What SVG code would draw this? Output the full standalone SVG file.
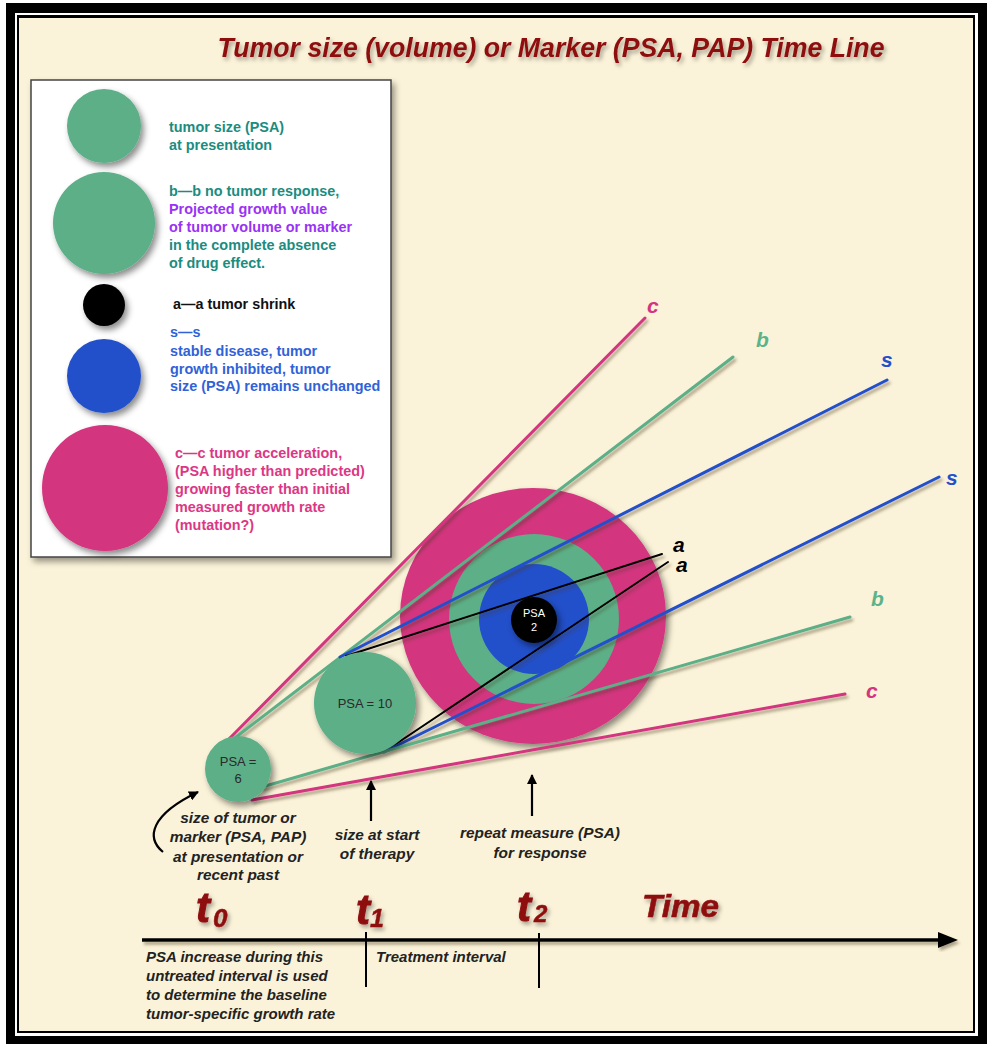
<svg xmlns="http://www.w3.org/2000/svg" width="987" height="1044" viewBox="0 0 987 1044">
<defs>
<style>
.leg{font-family:"Liberation Sans",Arial,sans-serif;font-weight:bold;font-size:14.4px}
.teal{fill:#1B8C80}.purp{fill:#9A32F5}.blk{fill:#111}.blu{fill:#3062D8}.pnk{fill:#DC3785}
.note{font-family:"Liberation Sans",Arial,sans-serif;font-weight:bold;font-style:italic;font-size:15.4px;fill:#222}
.note2{font-family:"Liberation Sans",Arial,sans-serif;font-weight:bold;font-style:italic;font-size:15px;fill:#222}
.red{font-family:"Liberation Sans",Arial,sans-serif;font-weight:bold;font-style:italic;fill:#8E0E10}
.lab{font-family:"Liberation Sans",Arial,sans-serif;font-weight:bold;font-style:italic;font-size:21px}
.psa{font-family:"Liberation Sans",Arial,sans-serif;font-size:13px;fill:#2a2a2a;text-anchor:middle}
.g{fill:#5CAF87}.p{fill:#D3357F}.b{fill:#2350CA}.k{fill:#000}
.ln{fill:none;stroke-linecap:round}
</style>
<filter id="cs" x="-30%" y="-30%" width="170%" height="170%"><feDropShadow dx="3" dy="4" stdDeviation="3" flood-color="#000" flood-opacity="0.45"/></filter>
<filter id="ls" x="-10%" y="-10%" width="120%" height="130%"><feDropShadow dx="2" dy="3" stdDeviation="1.5" flood-color="#4a3a20" flood-opacity="0.45"/></filter>
<filter id="ts" x="-20%" y="-30%" width="150%" height="170%"><feDropShadow dx="2" dy="3" stdDeviation="2" flood-color="#000" flood-opacity="0.35"/></filter>
<filter id="bs" x="-10%" y="-10%" width="120%" height="120%"><feDropShadow dx="3" dy="4" stdDeviation="3" flood-color="#000" flood-opacity="0.4"/></filter>
<marker id="ah" viewBox="0 0 10 10" refX="9" refY="5" markerWidth="10" markerHeight="10" markerUnits="userSpaceOnUse" orient="auto"><path d="M0,0 L10,5 L0,10 Z" fill="#000"/></marker>
</defs>

<g id="frame">
<rect x="0" y="0" width="987" height="1044" fill="#fff"/>
<rect x="6" y="3" width="981" height="1041" fill="#000"/>
<rect x="15" y="13" width="963" height="1023" fill="#fff"/>
<rect x="17" y="15" width="958" height="1018" fill="#000"/>
<rect x="19" y="18" width="954" height="1013" fill="#FBF3D9"/>
</g>

<text id="title" class="red" x="551" y="57" font-size="27" text-anchor="middle" textLength="667" lengthAdjust="spacingAndGlyphs" filter="url(#ts)">Tumor size (volume) or Marker (PSA, PAP) Time Line</text>

<g id="legend">
<rect x="31" y="80" width="360" height="477" fill="#fff" stroke="#444" stroke-width="1.5" filter="url(#bs)"/>
<g filter="url(#cs)">
<circle cx="104" cy="126" r="37" class="g"/>
<circle cx="104" cy="223" r="51" class="g"/>
<circle cx="104" cy="305" r="21" class="k"/>
<circle cx="104" cy="376" r="37" class="b"/>
<circle cx="105" cy="488" r="63" class="p"/>
</g>
<text class="leg teal" x="169" y="132">tumor size (PSA)</text>
<text class="leg teal" x="169" y="150">at presentation</text>
<text class="leg teal" x="169" y="196">b—b no tumor response,</text>
<text class="leg purp" x="169" y="214">Projected growth value</text>
<text class="leg purp" x="169" y="232">of tumor volume or marker</text>
<text class="leg teal" x="169" y="250">in the complete absence</text>
<text class="leg teal" x="169" y="268">of drug effect.</text>
<text class="leg blk" x="173" y="309">a—a tumor shrink</text>
<text class="leg blu" x="170" y="337">s—s</text>
<text class="leg blu" x="170" y="356">stable disease, tumor</text>
<text class="leg blu" x="170" y="374">growth inhibited, tumor</text>
<text class="leg blu" x="170" y="391">size (PSA) remains unchanged</text>
<text class="leg pnk" x="175" y="458">c—c tumor acceleration,</text>
<text class="leg pnk" x="175" y="476">(PSA higher than predicted)</text>
<text class="leg pnk" x="175" y="494">growing faster than initial</text>
<text class="leg pnk" x="175" y="512">measured growth rate</text>
<text class="leg pnk" x="175" y="530">(mutation?)</text>
</g>

<g id="response-circles" filter="url(#cs)">
<ellipse cx="533" cy="616" rx="133" ry="128" class="p"/>
<circle cx="534" cy="619" r="85" class="g"/>
<circle cx="534" cy="619" r="55" class="b"/>
</g>

<g id="connectors" filter="url(#ls)">
<line class="ln" x1="228" y1="740" x2="645" y2="318" stroke="#D3357F" stroke-width="3"/>
<line class="ln" x1="236" y1="737" x2="733" y2="357" stroke="#5CAF87" stroke-width="3"/>
<line class="ln" x1="340" y1="657" x2="887" y2="380" stroke="#2350CA" stroke-width="3"/>
<line class="ln" x1="346" y1="656" x2="662" y2="554" stroke="#000" stroke-width="2"/>
<line class="ln" x1="384" y1="752" x2="668" y2="562" stroke="#000" stroke-width="2"/>
<line class="ln" x1="384" y1="752" x2="939" y2="477" stroke="#2350CA" stroke-width="3"/>
<line class="ln" x1="262" y1="787" x2="850" y2="617" stroke="#5CAF87" stroke-width="3"/>
<line class="ln" x1="252" y1="800" x2="845" y2="694" stroke="#D3357F" stroke-width="3"/>
</g>

<g id="node-psa10">
<circle cx="365" cy="703" r="51" class="g" filter="url(#cs)"/>
<text class="psa" x="365" y="708">PSA = 10</text>
</g>
<g id="node-psa6">
<circle cx="238" cy="769" r="33" class="g" filter="url(#cs)"/>
<text class="psa" x="238" y="766">PSA =</text>
<text class="psa" x="238" y="783">6</text>
</g>
<g id="node-psa2">
<circle cx="534" cy="620" r="23" class="k" filter="url(#cs)"/>
<text class="psa" x="534" y="617" font-size="11" fill="#fff" style="fill:#fff;font-size:11px">PSA</text>
<text class="psa" x="534" y="631" style="fill:#fff;font-size:11px">2</text>
</g>

<g id="line-labels">
<text class="lab" x="647" y="313" fill="#D3357F">c</text>
<text class="lab" x="756" y="347" fill="#5CB38A">b</text>
<text class="lab" x="881" y="367" fill="#2350CA">s</text>
<text class="lab" x="946" y="485" fill="#2350CA">s</text>
<text class="lab" x="871" y="606" fill="#5CB38A">b</text>
<text class="lab" x="866" y="698" fill="#D3357F">c</text>
<text class="lab" x="673" y="552" fill="#000">a</text>
<text class="lab" x="676" y="572" fill="#000">a</text>
</g>

<g id="pointers" fill="none" stroke="#000" stroke-width="2.2">
<path d="M163,852 C146,838 150,815 198,792" marker-end="url(#ah)"/>
<line x1="371" y1="821" x2="371" y2="781" marker-end="url(#ah)"/>
<line x1="532" y1="816" x2="532" y2="775" marker-end="url(#ah)"/>
</g>

<g id="annotations">
<text class="note" x="238" y="823" text-anchor="middle">size of tumor or</text>
<text class="note" x="238" y="842" text-anchor="middle">marker (PSA, PAP)</text>
<text class="note" x="238" y="862" text-anchor="middle">at presentation or</text>
<text class="note" x="238" y="880" text-anchor="middle">recent past</text>
<text class="note" x="377" y="840" text-anchor="middle">size at start</text>
<text class="note" x="377" y="859" text-anchor="middle">of therapy</text>
<text class="note" x="540" y="838" text-anchor="middle">repeat measure (PSA)</text>
<text class="note" x="540" y="858" text-anchor="middle">for response</text>
</g>

<g id="timeline">
<g filter="url(#ls)">
<line x1="142" y1="940" x2="945" y2="940" stroke="#000" stroke-width="3.5"/>
<polygon points="938,932 958,940 938,948" fill="#000"/>
</g>
<line x1="366" y1="932" x2="366" y2="987" stroke="#000" stroke-width="2"/>
<line x1="539" y1="933" x2="539" y2="988" stroke="#000" stroke-width="2"/>
<g filter="url(#ts)">
<text class="red" x="196" y="922" font-size="42" stroke="#8E0E10" stroke-width="1">t<tspan font-size="26" stroke-width="0.5" dx="3" dy="5">0</tspan></text>
<text class="red" x="356" y="924" font-size="42" stroke="#8E0E10" stroke-width="1">t<tspan font-size="25" stroke-width="0.5" dx="0" dy="3">1</tspan></text>
<text class="red" x="517" y="921" font-size="42" stroke="#8E0E10" stroke-width="1">t<tspan font-size="24" stroke-width="0.5" dx="3" dy="1">2</tspan></text>
<text class="red" x="642" y="917" font-size="31" textLength="77" lengthAdjust="spacingAndGlyphs" stroke="#8E0E10" stroke-width="0.6">Time</text>
</g>
<text class="note2" x="146" y="962">PSA increase during this</text>
<text class="note2" x="146" y="981">untreated interval is used</text>
<text class="note2" x="146" y="1000">to determine the baseline</text>
<text class="note2" x="146" y="1019">tumor-specific growth rate</text>
<text class="note2" x="376" y="962">Treatment interval</text>
</g>
</svg>
